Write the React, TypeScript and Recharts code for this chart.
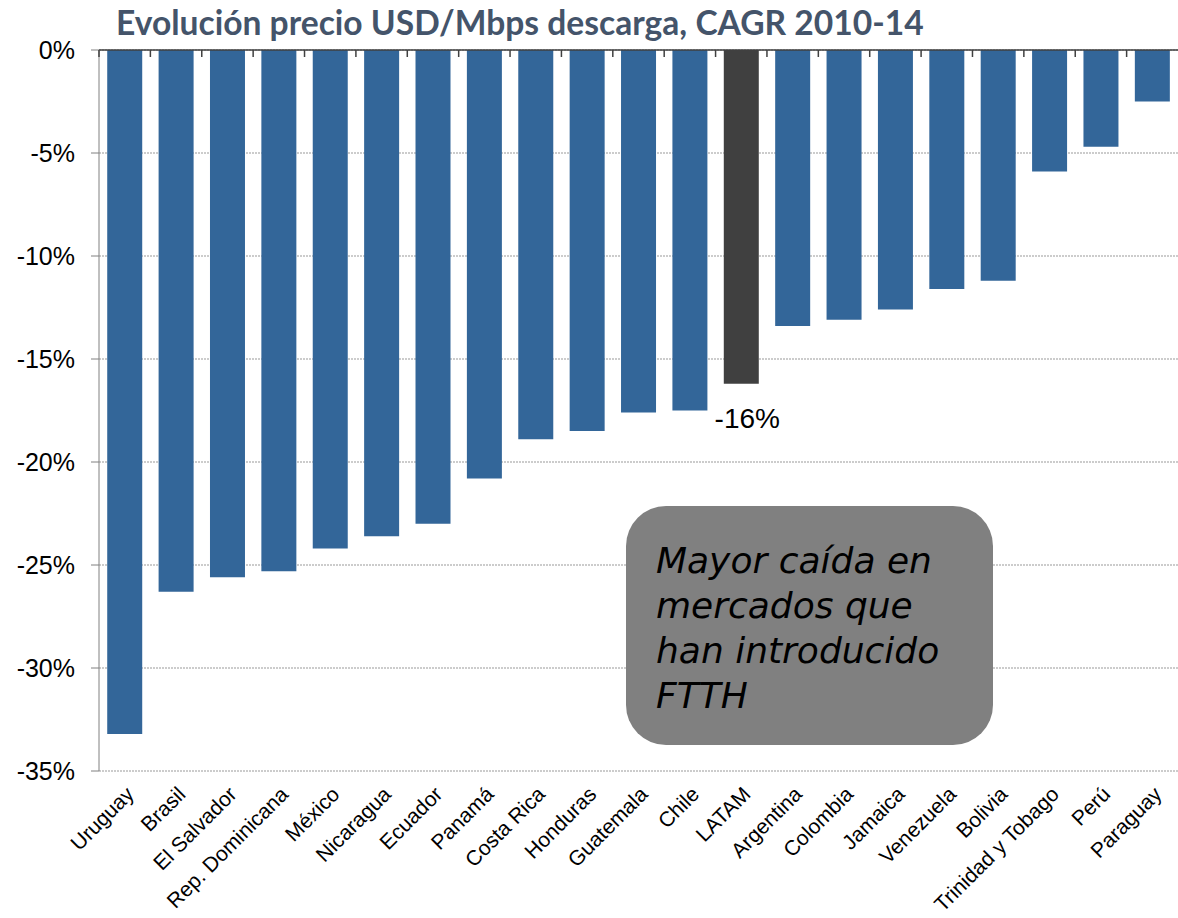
import React from "react";
import {
  BarChart,
  Bar,
  XAxis,
  YAxis,
  CartesianGrid,
  ReferenceLine,
  Cell,
  LabelList
} from "recharts";

const countries = [
  "Uruguay", "Brasil", "El Salvador", "Rep. Dominicana", "México", "Nicaragua",
  "Ecuador", "Panamá", "Costa Rica", "Honduras", "Guatemala", "Chile", "LATAM",
  "Argentina", "Colombia", "Jamaica", "Venezuela", "Bolivia", "Trinidad y Tobago",
  "Perú", "Paraguay"
];
const cagr = [
  -33.2, -26.3, -25.6, -25.3, -24.2, -23.6, -23.0, -20.8, -18.9, -18.5, -17.6,
  -17.5, -16.2, -13.4, -13.1, -12.6, -11.6, -11.2, -5.9, -4.7, -2.5
];
const yTicks = [0, -5, -10, -15, -20, -25, -30, -35];
const highlight = "LATAM";
const highlightLabel = "-16%";

const data = countries.map((name, i) => ({ name, value: cagr[i] }));

// plot top (0% line) and half a category band, for the small marks between bars
const ZERO_Y = 50;
const HALF_BAND = 1079 / countries.length / 2;

const CountryTick = (props: any) => {
  const { x, y, payload } = props;
  return (
    <g>
      <line
        x1={x - HALF_BAND}
        x2={x - HALF_BAND}
        y1={ZERO_Y}
        y2={ZERO_Y + 7}
        stroke="#404040"
        strokeWidth={1.5}
      />
      <g transform={`translate(${x},${y + 6})`}>
        <text
          transform="rotate(-45)"
          textAnchor="end"
          dy={15}
          fontFamily="Arial, 'Liberation Sans', sans-serif"
          fontSize={21}
          fill="#000"
        >
          {payload.value}
        </text>
      </g>
    </g>
  );
};

const LatamLabel = (props: any) => {
  const { x, y, width, height, index } = props;
  if (countries[index] !== highlight) return null;
  const bottom = Math.max(y, y + height);
  return (
    <text
      x={x + width / 2 + 6}
      y={bottom + 44}
      textAnchor="middle"
      fontFamily="Arial, 'Liberation Sans', sans-serif"
      fontSize={28}
      fill="#000"
    >
      {highlightLabel}
    </text>
  );
};

export default function App() {
  return (
    <div style={{ position: "absolute", left: 0, top: 0, width: 1178, height: 918, background: "#fff" }}>
      <div
        style={{
          position: "absolute",
          left: 116,
          top: 0,
          fontFamily: "Lato, 'Open Sans', sans-serif",
          fontWeight: 700,
          fontSize: 33.6,
          lineHeight: "44px",
          color: "#44546A",
          whiteSpace: "nowrap"
        }}
      >
        Evolución precio USD/Mbps descarga, CAGR 2010-14
      </div>
      <BarChart
        width={1178}
        height={918}
        data={data}
        margin={{ top: ZERO_Y, right: 0, bottom: 0, left: 0 }}
        barCategoryGap="16%"
      >
        <CartesianGrid vertical={false} stroke="#999" strokeDasharray="2 1" />
        <XAxis
          dataKey="name"
          interval={0}
          height={147}
          axisLine={false}
          tickLine={false}
          tick={<CountryTick />}
        />
        <YAxis
          width={99}
          domain={[-35, 0]}
          ticks={yTicks}
          interval={0}
          tickFormatter={(v) => `${v}%`}
          axisLine={{ stroke: "#808080" }}
          tickLine={{ stroke: "#808080" }}
          tickSize={8}
          tickMargin={16}
          tick={{ fontFamily: "Arial, 'Liberation Sans', sans-serif", fontSize: 25, fill: "#000" }}
        />
        <ReferenceLine y={0} stroke="#404040" strokeWidth={1.5} />
        <Bar dataKey="value" isAnimationActive={false}>
          {data.map((d) => (
            <Cell key={d.name} fill={d.name === highlight ? "#404040" : "#336699"} />
          ))}
          <LabelList dataKey="value" content={<LatamLabel />} />
        </Bar>
      </BarChart>
      <div
        style={{
          position: "absolute",
          left: 626,
          top: 506,
          width: 367,
          height: 239,
          borderRadius: 40,
          background: "#808080",
          boxSizing: "border-box",
          padding: "32px 0 0 30px",
          fontFamily: "'DejaVu Sans', Verdana, sans-serif",
          fontStyle: "italic",
          fontSize: 36,
          lineHeight: "45px",
          color: "#000",
          whiteSpace: "nowrap"
        }}
      >
        Mayor caída en
        <br />
        mercados que
        <br />
        han introducido
        <br />
        FTTH
      </div>
    </div>
  );
}
